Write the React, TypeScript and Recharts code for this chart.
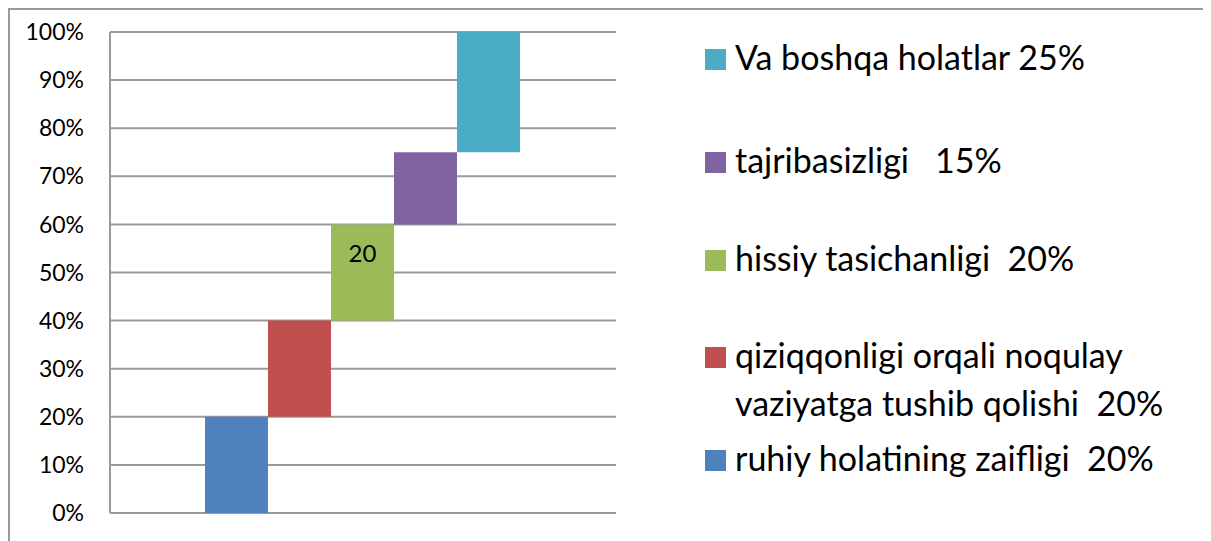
import { Bar, BarChart, CartesianGrid, LabelList, Legend, XAxis, YAxis } from "recharts";

// one column, five floating segments stacked on top of each other
const categories = [""];
const seriesNames = [
  "ruhiy holatining zaifligi  20%",
  "qiziqqonligi orqali noqulay vaziyatga tushib qolishi  20%",
  "hissiy tasichanligi  20%",
  "tajribasizligi   15%",
  "Va boshqa holatlar 25%",
];
const seriesStart = [0, 0.2, 0.4, 0.6, 0.75];
const seriesEnd = [0.2, 0.4, 0.6, 0.75, 1];
const seriesColors = ["#4F81BD", "#C0504D", "#9BBB59", "#8064A2", "#4BACC6"];
const seriesLabels = ["", "", "20", "", ""];
const yTicks = [0, 0.1, 0.2, 0.3, 0.4, 0.5, 0.6, 0.7, 0.8, 0.9, 1];

const data = categories.map((name) => {
  const row: Record<string, unknown> = { name };
  seriesNames.forEach((_, i) => {
    row[`s${i}`] = [seriesStart[i], seriesEnd[i]];
    row[`l${i}`] = seriesLabels[i];
  });
  return row;
});

const FONT = "Lato, 'DejaVu Sans', sans-serif";
const GRID = "#9a9a9a";

// legend rows, top to bottom (Excel lists the last series first)
const LEGEND_TOP = [23, 126, 224, 321, 424];

function ChartLegend() {
  const order = seriesNames.map((_, i) => i).reverse();
  return (
    <div style={{ position: "relative", width: 500, height: 520, fontFamily: FONT }}>
      {order.map((idx, row) => (
        <div
          key={idx}
          style={{ position: "absolute", left: 0, top: LEGEND_TOP[row], display: "flex", alignItems: "flex-start" }}
        >
          <span
            style={{
              width: 21,
              height: 21,
              marginTop: 16,
              background: seriesColors[idx],
              flex: "none",
            }}
          />
          <span
            style={{
              marginLeft: 9,
              width: 460,
              fontSize: 34,
              lineHeight: "48px",
              color: "#000",
              whiteSpace: "pre-wrap",
            }}
          >
            {seriesNames[idx]}
          </span>
        </div>
      ))}
    </div>
  );
}

export default function App() {
  return (
    <div
      style={{
        width: 1203,
        height: 533,
        boxSizing: "border-box",
        borderTop: `2px solid ${GRID}`,
        borderLeft: `2px solid ${GRID}`,
        background: "#fff",
        position: "relative",
      }}
    >
      <style>{"html,body{overflow:hidden}"}</style>
      <BarChart
        width={1201}
        height={531}
        data={data}
        margin={{ top: 22, right: 595, bottom: 28, left: 0 }}
        barCategoryGap={95}
        barGap={0}
      >
        <CartesianGrid vertical={false} stroke={GRID} strokeWidth={2} />
        <XAxis dataKey="name" hide />
        <YAxis
          domain={[0, 1]}
          ticks={yTicks}
          tickFormatter={(v: number) => `${Math.round(v * 100)}%`}
          width={100}
          tickLine={false}
          tickSize={0}
          tickMargin={26}
          axisLine={{ stroke: GRID, strokeWidth: 2 }}
          tick={{ fontSize: 23, fill: "#000", fontFamily: FONT }}
          interval={0}
        />
        <Legend
          layout="horizontal"
          align="center"
          verticalAlign="middle"
          wrapperStyle={{ left: 695, top: 0, width: 500, height: 520 }}
          content={() => <ChartLegend />}
        />
        {seriesNames.map((name, i) => (
          <Bar key={name} dataKey={`s${i}`} name={name} fill={seriesColors[i]} isAnimationActive={false}>
            {seriesLabels[i] ? (
              <LabelList
                dataKey={`l${i}`}
                position="insideTop"
                offset={21}
                fill="#000"
                fontSize={24}
                fontFamily={FONT}
              />
            ) : null}
          </Bar>
        ))}
      </BarChart>
    </div>
  );
}
